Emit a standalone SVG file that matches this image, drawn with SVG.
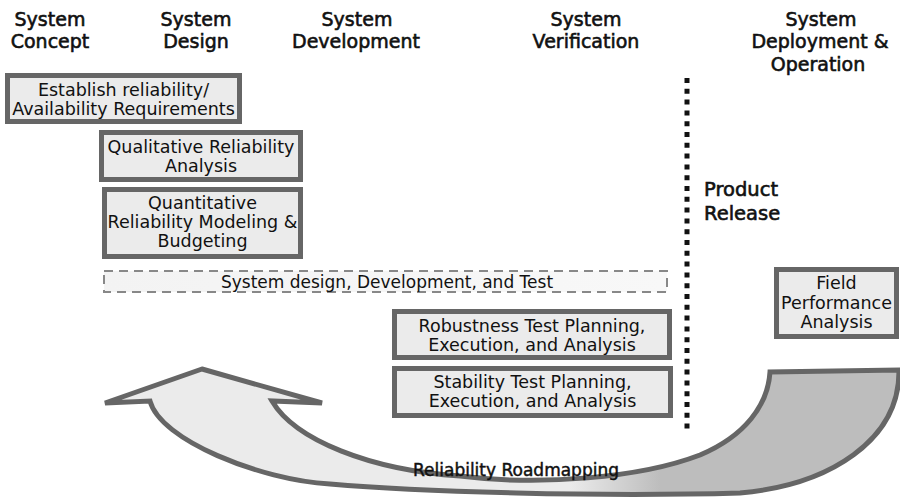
<svg xmlns="http://www.w3.org/2000/svg" width="900" height="497" viewBox="0 0 900 497">
<style>
.hd{font-family:"DejaVu Sans","Liberation Sans",sans-serif;font-size:19px;fill:#111;stroke:#111;stroke-width:0.6;text-anchor:middle}
.bx{fill:#ebebeb;stroke:#666;stroke-width:5}
.tx{font-family:"DejaVu Sans","Liberation Sans",sans-serif;font-size:17.5px;fill:#111;text-anchor:middle}
.lb{font-family:"DejaVu Sans","Liberation Sans",sans-serif;font-size:19.5px;fill:#111;stroke:#111;stroke-width:0.6}
.rm{font-family:"DejaVu Sans","Liberation Sans",sans-serif;font-size:17px;fill:#111;stroke:#111;stroke-width:0.45;text-anchor:middle}
</style>
<defs>
<linearGradient id="arrowFill" gradientUnits="userSpaceOnUse" x1="570" y1="0" x2="660" y2="0">
<stop offset="0" stop-color="#ebebeb"/>
<stop offset="1" stop-color="#bdbdbd"/>
</linearGradient>
<linearGradient id="dashFill" x1="0" y1="0" x2="1" y2="0">
<stop offset="0" stop-color="#f3f3f3"/>
<stop offset="1" stop-color="#f8f8f8"/>
</linearGradient>
</defs>
<rect width="900" height="497" fill="#fff"/>

<g id="headings">
<text class="hd" x="50" y="26">System</text>
<text class="hd" x="50" y="48">Concept</text>
<text class="hd" x="196" y="26">System</text>
<text class="hd" x="196" y="48">Design</text>
<text class="hd" x="357" y="26">System</text>
<text class="hd" x="356" y="48">Development</text>
<text class="hd" x="586" y="26">System</text>
<text class="hd" x="586" y="48">Verification</text>
<text class="hd" x="821" y="26">System</text>
<text class="hd" x="820" y="48">Deployment &amp;</text>
<text class="hd" x="818" y="71">Operation</text>
</g>

<g id="roadmap-arrow">
<path d="M202,369 L322,403 L272,401 C295,440 370,470 460,476 C540,486 640,478 700,455 C745,436 768,405 770,372 L899,370 C900,440 830,485 740,493 C600,497 420,492 330,484 C260,480 160,440 150,401 L105,403 Z" fill="url(#arrowFill)" stroke="#666" stroke-width="5" stroke-linejoin="miter"/>
<text class="rm" x="516" y="476">Reliability Roadmapping</text>
</g>

<g id="release">
<line x1="687" y1="78" x2="687" y2="430" stroke="#111" stroke-width="5" stroke-dasharray="5 5.8"/>
<text class="lb" x="704" y="196">Product</text>
<text class="lb" x="704" y="220">Release</text>
</g>

<g id="establish">
<rect class="bx" x="7.5" y="75.5" width="232" height="46"/>
<text class="tx" x="123.5" y="96">Establish reliability/</text>
<text class="tx" x="123.5" y="115">Availability Requirements</text>
</g>

<g id="qualitative">
<rect class="bx" x="101.5" y="132.5" width="199" height="47"/>
<text class="tx" x="201" y="153">Qualitative Reliability</text>
<text class="tx" x="201" y="172">Analysis</text>
</g>

<g id="quantitative">
<rect class="bx" x="104.5" y="189.5" width="196" height="67"/>
<text class="tx" x="202.5" y="209">Quantitative</text>
<text class="tx" x="202.5" y="228">Reliability Modeling &amp;</text>
<text class="tx" x="202.5" y="247">Budgeting</text>
</g>

<g id="design-dev-test">
<rect x="104" y="271" width="563" height="21" fill="url(#dashFill)" stroke="#888" stroke-width="2" stroke-dasharray="9 6"/>
<text class="tx" x="387" y="288" style="font-size:17px">System design, Development, and Test</text>
</g>

<g id="robustness">
<rect class="bx" x="394.5" y="311.5" width="275" height="46"/>
<text class="tx" x="532" y="332">Robustness Test Planning,</text>
<text class="tx" x="532" y="351">Execution, and Analysis</text>
</g>

<g id="stability">
<rect class="bx" x="394.5" y="368.5" width="276" height="47"/>
<text class="tx" x="532.5" y="388">Stability Test Planning,</text>
<text class="tx" x="532.5" y="407">Execution, and Analysis</text>
</g>

<g id="field">
<rect class="bx" x="776.5" y="269.5" width="120" height="67"/>
<text class="tx" x="836.5" y="289">Field</text>
<text class="tx" x="836.5" y="309">Performance</text>
<text class="tx" x="836.5" y="328">Analysis</text>
</g>
</svg>
